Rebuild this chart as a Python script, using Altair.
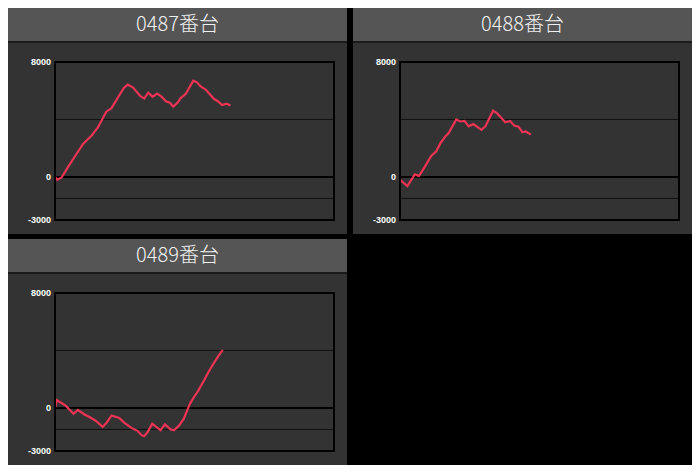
import altair as alt
import pandas as pd

# ---------------- data ----------------
titles = ["0487番台", "0488番台", "0489番台"]

games1 = [0, 65, 190, 380, 570, 805, 1045, 1230, 1470, 1615, 1800, 1975, 2085, 2230, 2450, 2560,
          2675, 2800, 2925, 3040, 3180, 3295, 3390, 3510, 3610, 3750, 3965, 4065, 4175, 4320,
          4555, 4670, 4790, 4915, 5030]
diff1 = [0, -200, -40, 715, 1420, 2300, 2870, 3440, 4540, 4770, 5510, 6190, 6420, 6235, 5620, 5460,
         5870, 5575, 5800, 5620, 5270, 5160, 4890, 5160, 5510, 5780, 6700, 6600, 6300, 6080,
         5440, 5270, 5000, 5095, 4980]

games2 = [0, 210, 425, 540, 710, 900, 1035, 1160, 1300, 1395, 1615, 1730, 1850, 1970, 2100, 2335,
          2450, 2670, 2785, 3020, 3160, 3275, 3395, 3510, 3605, 3750]
diff2 = [-200, -640, 180, 60, 700, 1470, 1770, 2350, 2810, 3050, 4000, 3860, 3900, 3520, 3680, 3280,
         3530, 4610, 4420, 3800, 3890, 3570, 3500, 3110, 3160, 2950]

games3 = [0, 57, 151, 305, 532, 655, 846, 988, 1176, 1367, 1480, 1623, 1842, 1984, 2192, 2363,
          2485, 2554, 2648, 2790, 3026, 3152, 3311, 3408, 3550, 3693, 3787, 3872, 3986, 4100,
          4271, 4413, 4556, 4698, 4812]
diff3 = [0, 548, 390, 158, -411, -137, -459, -637, -911, -1322, -1028, -527, -706, -1028, -1391, -1596,
         -1897, -1966, -1713, -1096, -1555, -1144, -1486, -1555, -1254, -754, -185, 299, 759, 1172,
         1908, 2552, 3127, 3655, 4046]

x_domain = [0, 8000]
y_domain = [-3000, 8000]
grid_values = [4000, -1500]
zero_value = [0]
tick_values = [8000, 0, -3000]
tick_labels = ["8000", "0", "-3000"]

# ---------------- layout constants ----------------
W, H = 339, 226
HEADER_H = 33
PX0, PX1 = 47, 326      # plot area x range inside a panel
PY_TOP, PY_BOT = 54, 212  # plot area y range inside a panel

HEADER_COLOR = "#555555"
BODY_COLOR = "#333333"
LINE_COLOR = "#ee3355"

xscale = alt.Scale(domain=x_domain, range=[PX0, PX1])
yscale = alt.Scale(domain=y_domain, range=[PY_BOT, PY_TOP])


def one_row():
    return alt.Data(values=[{"k": 1}])


def panel(title, games, diff):
    header = alt.Chart(one_row()).mark_rect(fill=HEADER_COLOR).encode(
        x=alt.value(0), x2=alt.value(W), y=alt.value(0), y2=alt.value(HEADER_H)
    )
    sep = alt.Chart(one_row()).mark_rect(fill="#1a1a1a").encode(
        x=alt.value(0), x2=alt.value(W), y=alt.value(HEADER_H), y2=alt.value(HEADER_H + 2)
    )
    body = alt.Chart(one_row()).mark_rect(fill=BODY_COLOR).encode(
        x=alt.value(0), x2=alt.value(W), y=alt.value(HEADER_H + 2), y2=alt.value(H)
    )
    title_txt = alt.Chart(one_row()).mark_text(
        font="Noto Sans CJK JP", fontSize=20, fontWeight=300, color="#f0f0f0",
        align="center", baseline="middle"
    ).encode(x=alt.value(W / 2), y=alt.value(HEADER_H / 2), text=alt.value(title))

    grid = alt.Chart(pd.DataFrame({"v": grid_values})).mark_rule(
        color="#111111", strokeWidth=1
    ).encode(
        y=alt.Y("v:Q", scale=yscale, axis=None), x=alt.value(PX0), x2=alt.value(PX1)
    )
    zero = alt.Chart(pd.DataFrame({"v": zero_value})).mark_rule(
        color="#000000", strokeWidth=2
    ).encode(
        y=alt.Y("v:Q", scale=yscale, axis=None), x=alt.value(PX0), x2=alt.value(PX1)
    )
    frame = alt.Chart(pd.DataFrame({"top": [y_domain[1]], "bot": [y_domain[0]]})).mark_rect(
        fill="transparent", stroke="#000000", strokeWidth=2
    ).encode(
        y=alt.Y("top:Q", scale=yscale, axis=None), y2="bot:Q",
        x=alt.value(PX0), x2=alt.value(PX1)
    )
    labels = alt.Chart(pd.DataFrame({"v": tick_values, "t": tick_labels})).mark_text(
        font="Liberation Sans", fontSize=9, fontWeight="bold", color="#ffffff",
        align="right", baseline="middle"
    ).encode(
        y=alt.Y("v:Q", scale=yscale, axis=None), x=alt.value(PX0 - 4), text="t:N"
    )
    line = alt.Chart(pd.DataFrame({"g": games, "d": diff})).mark_line(
        color=LINE_COLOR, strokeWidth=2.2
    ).encode(
        x=alt.X("g:Q", scale=xscale, axis=None),
        y=alt.Y("d:Q", scale=yscale, axis=None),
    )
    return alt.layer(header, sep, body, title_txt, grid, zero, line, frame, labels).properties(
        width=W, height=H
    )


p1 = panel(titles[0], games1, diff1)
p2 = panel(titles[1], games2, diff2)
p3 = panel(titles[2], games3, diff3)

chart = alt.vconcat(
    alt.hconcat(p1, p2, spacing=6),
    p3,
    spacing=5,
).properties(
    padding=0, background="#000000"
).configure_view(strokeWidth=0)

chart.save("out.html", embed_options={"renderer": "svg", "actions": False})
